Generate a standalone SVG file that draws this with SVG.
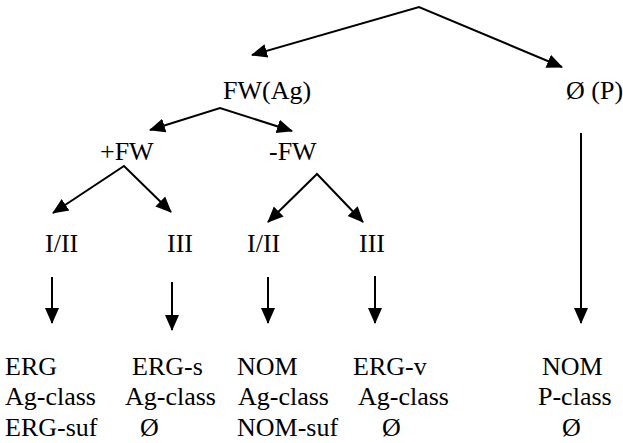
<svg xmlns="http://www.w3.org/2000/svg" width="623" height="443" viewBox="0 0 623 443" font-family="'Liberation Serif', 'Times New Roman', 'DejaVu Serif', serif" font-size="26">
  <style>
    .lbl { font-family: 'Liberation Serif', 'Times New Roman', 'DejaVu Serif', serif; font-size: 26px; fill: #000; }
    .edge { fill: none; stroke: #000; stroke-width: 2; stroke-linejoin: miter; }
    .branch { marker-start: url(#head); marker-end: url(#head); }
    .down { marker-end: url(#head); }
  </style>
  <defs>
    <marker id="head" markerUnits="userSpaceOnUse" markerWidth="16" markerHeight="16" viewBox="0 0 16 14" refX="15" refY="7" orient="auto-start-reverse">
      <path d="M0,0 L16,7 L0,14 z" fill="#000"/>
    </marker>
  </defs>

  <g id="connectors">
    <!-- branching splits (two heads each, joined at the apex) -->
    <path class="edge branch" d="M252,55 L419,7 L562,67"/>
    <path class="edge branch" d="M150,130 L220,108 L292,131"/>
    <path class="edge branch" d="M53,213 L124,166 L171,212"/>
    <path class="edge branch" d="M268,222 L317,174 L363,222"/>
    <!-- straight downward arrows -->
    <path class="edge down" d="M52,277 L52,323"/>
    <path class="edge down" d="M172,282 L172,330"/>
    <path class="edge down" d="M268,277 L268,323"/>
    <path class="edge down" d="M375,276 L375,323"/>
    <path class="edge down" d="M581,133 L581,323"/>
  </g>

  <g class="lbl">
    <g id="node-fw-ag"><text x="223" y="99">FW(Ag)</text></g>
    <g id="node-zero-p"><text x="566" y="99">Ø (P)</text></g>
    <g id="node-plus-fw"><text x="100" y="160">+FW</text></g>
    <g id="node-minus-fw"><text x="269" y="160">-FW</text></g>
    <g id="node-plus-i-ii"><text x="45" y="252">I/II</text></g>
    <g id="node-plus-iii"><text x="167" y="252">III</text></g>
    <g id="node-minus-i-ii"><text x="247" y="252">I/II</text></g>
    <g id="node-minus-iii"><text x="359" y="252">III</text></g>

    <g id="leaf-erg">
      <text x="5" y="375">ERG</text>
      <text x="5" y="405">Ag-class</text>
      <text x="5" y="436">ERG-suf</text>
    </g>
    <g id="leaf-erg-s">
      <text x="132" y="375">ERG-s</text>
      <text x="125" y="405">Ag-class</text>
      <text x="140" y="436">Ø</text>
    </g>
    <g id="leaf-nom">
      <text x="237" y="375">NOM</text>
      <text x="238" y="405">Ag-class</text>
      <text x="237" y="436">NOM-suf</text>
    </g>
    <g id="leaf-erg-v">
      <text x="353" y="375">ERG-v</text>
      <text x="358" y="405">Ag-class</text>
      <text x="382" y="436">Ø</text>
    </g>
    <g id="leaf-nom-p">
      <text x="542" y="375">NOM</text>
      <text x="538" y="405">P-class</text>
      <text x="562" y="436">Ø</text>
    </g>
  </g>
</svg>
